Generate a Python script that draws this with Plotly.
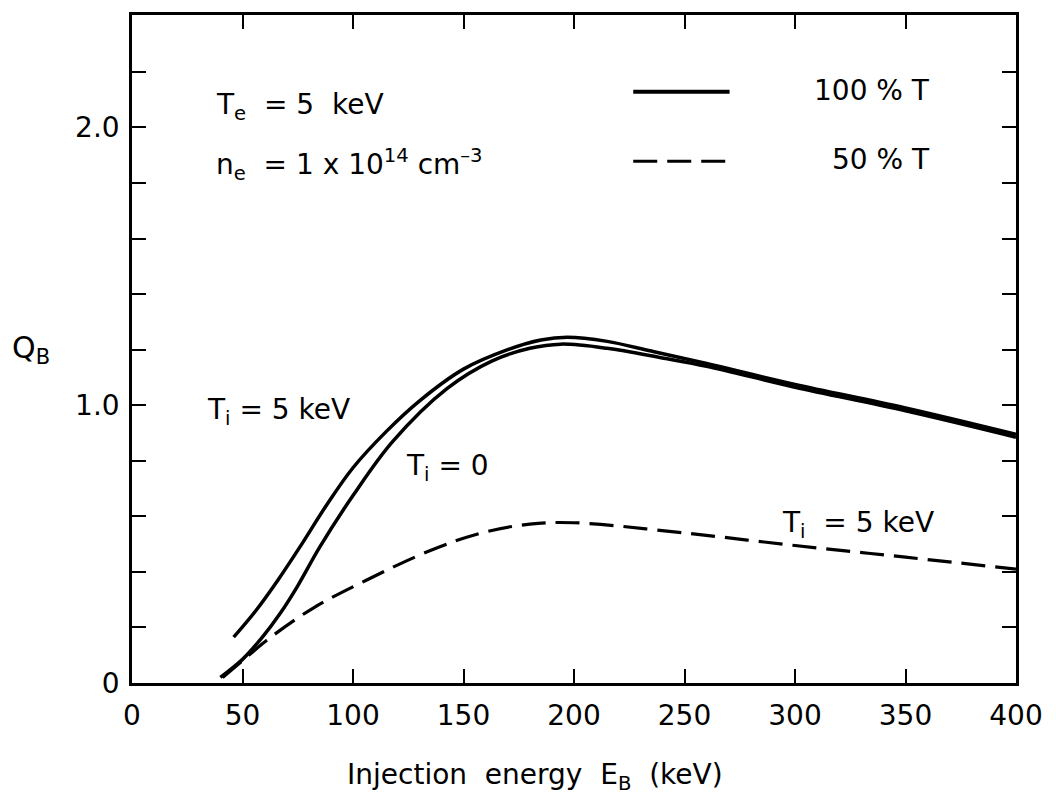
import plotly.graph_objects as go

# ---- data ----
x_ti5 = [46, 56, 66, 76, 88, 100, 115, 130, 150, 170, 185, 197, 215, 235, 260, 300, 350, 400]
y_ti5 = [0.165, 0.26, 0.37, 0.49, 0.64, 0.775, 0.905, 1.015, 1.13, 1.20, 1.235, 1.245, 1.23, 1.195, 1.15, 1.075, 0.99, 0.895]

x_ti0 = [40, 50, 59, 67, 75, 85, 100, 118, 142.5, 163, 180, 194, 215, 240, 260, 300, 350, 400]
y_ti0 = [0.02, 0.085, 0.165, 0.25, 0.35, 0.49, 0.675, 0.87, 1.06, 1.16, 1.205, 1.22, 1.205, 1.17, 1.14, 1.065, 0.98, 0.885]

x_half = [41, 50, 61, 82, 106, 135, 158, 180, 200, 250, 300, 350, 400]
y_half = [0.02, 0.08, 0.154, 0.27, 0.37, 0.477, 0.54, 0.572, 0.577, 0.54, 0.495, 0.453, 0.41]

x_ticks = [0, 50, 100, 150, 200, 250, 300, 350, 400]
x_ticklabels = ["0", "50", "100", "150", "200", "250", "300", "350", "400"]
y_ticks = [0, 1.0, 2.0]
y_ticklabels = ["0", "1.0", "2.0"]
y_minor_ticks = [0.2, 0.4, 0.6, 0.8, 1.2, 1.4, 1.6, 1.8, 2.2]

FONT = "DejaVu Sans"
FS = 28
fig = go.Figure()

fig.add_trace(go.Scatter(x=x_ti5, y=y_ti5, mode="lines", name="100 % T, Ti = 5 keV",
                         line=dict(color="black", width=3.5, shape="spline", smoothing=1.0)))
fig.add_trace(go.Scatter(x=x_ti0, y=y_ti0, mode="lines", name="100 % T, Ti = 0",
                         line=dict(color="black", width=3.5, shape="spline", smoothing=1.0)))
fig.add_trace(go.Scatter(x=x_half, y=y_half, mode="lines", name="50 % T, Ti = 5 keV",
                         line=dict(color="black", width=3.2, dash="24px,10px", shape="spline", smoothing=1.0)))

axis_common = dict(showline=True, linecolor="black", linewidth=2.5, mirror="ticks",
                   ticks="inside", ticklen=14, tickwidth=2, tickcolor="black",
                   showgrid=False, zeroline=False,
                   tickfont=dict(family=FONT, size=FS, color="black"))

fig.update_xaxes(range=[0, 400], tickvals=x_ticks, ticktext=x_ticklabels,
                 ticklabelstandoff=6, **axis_common)
fig.update_yaxes(range=[0, 2.405], tickvals=y_ticks, ticktext=y_ticklabels,
                 ticklabelstandoff=4,
                 minor=dict(tickvals=y_minor_ticks, ticks="inside", ticklen=14,
                            tickwidth=2, tickcolor="black", showgrid=False),
                 **axis_common)

# legend samples (decoration)
fig.add_shape(type="line", xref="paper", yref="paper", x0=0.567, x1=0.676, y0=0.885, y1=0.885,
              line=dict(color="black", width=4))
fig.add_shape(type="line", xref="paper", yref="paper", x0=0.567, x1=0.676, y0=0.781, y1=0.781,
              line=dict(color="black", width=3, dash="24px,10px"))

def ann(text, x, y, xanchor="left", size=FS, xref="paper", yref="paper"):
    fig.add_annotation(text=text, x=x, y=y, xref=xref, yref=yref, xanchor=xanchor,
                       yanchor="middle", showarrow=False,
                       font=dict(family=FONT, size=size, color="black"))

W, H = 1056, 803
L, R, T, B = 132, 1016, 12, 683
def px(xp): return (xp - L) / (R - L)
def py(yp): return (B - yp) / (B - T)

ann("100\u00a0%\u00a0T", px(932), py(88), xanchor="right")
ann("50\u00a0%\u00a0T", px(932), py(157), xanchor="right")
ann("T<sub>e</sub>\u00a0\u00a0=\u00a05\u00a0\u00a0keV", px(214), py(104))
ann("n<sub>e</sub>\u00a0\u00a0=\u00a01\u00a0x\u00a010<sup>14</sup>\u00a0cm<sup>\u20133</sup>", px(214), py(162))
ann("T<sub>i</sub>\u00a0=\u00a05\u00a0keV", px(205), py(410))
ann("T<sub>i</sub>\u00a0=\u00a00", px(404), py(467))
ann("T<sub>i</sub>\u00a0\u00a0=\u00a05\u00a0keV", px(780), py(524))
ann("Q<sub>B</sub>", px(10), py(348), xanchor="left", size=30)
ann("Injection\u00a0\u00a0energy\u00a0\u00a0E<sub>B</sub>\u00a0\u00a0(keV)", px(535), py(777), xanchor="center")

fig.update_layout(width=W, height=H, showlegend=False,
                  plot_bgcolor="white", paper_bgcolor="white",
                  margin=dict(l=L, r=W - R, t=T, b=H - B))

fig.write_html("out.html")
